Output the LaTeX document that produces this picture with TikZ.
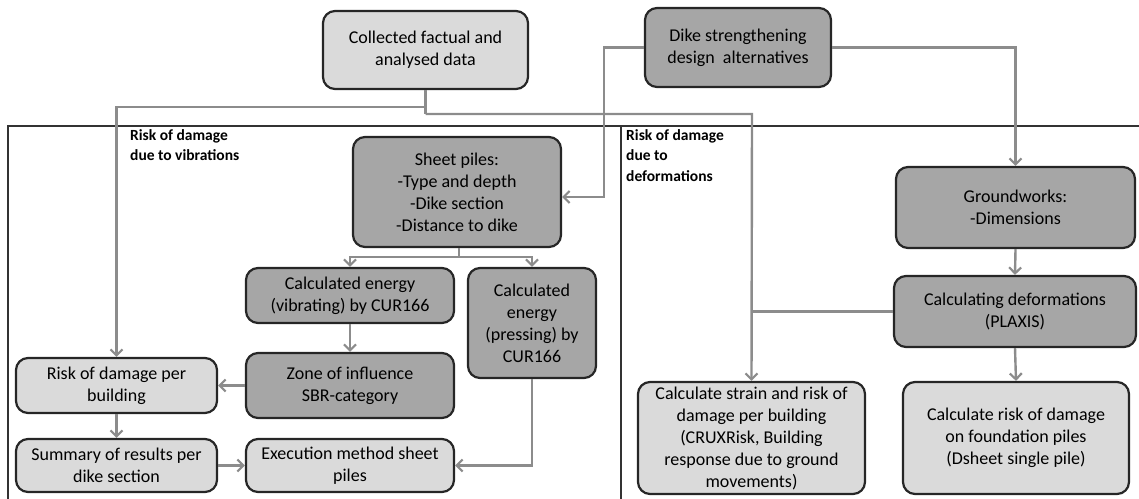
\documentclass[tikz,border=0pt]{standalone}
\usepackage{fontspec}
\setmainfont{Carlito}
\usetikzlibrary{arrows.meta}
\definecolor{lightfill}{HTML}{DADADA}
\definecolor{darkfill}{HTML}{A6A6A6}
\definecolor{boxline}{HTML}{262626}
\definecolor{connc}{HTML}{8C8C8C}
\definecolor{framec}{HTML}{333333}
\tikzset{
  box/.style={draw=boxline, line width=2.2pt, rounded corners=12pt, align=center,
    inner sep=0pt, font=\fontsize{18}{22}\selectfont},
  lightbox/.style={box, fill=lightfill},
  darkbox/.style={box, fill=darkfill},
  link/.style={draw=connc, line width=2.4pt},
  conn/.style={link, -{Straight Barb[length=6pt,width=12pt,line width=2.2pt]}},
  frameline/.style={draw=framec, line width=2pt},
  lbl/.style={font=\bfseries\fontsize{15.5}{20.5}\selectfont, align=left, inner sep=0pt, anchor=north west}
}
\begin{document}
\begin{tikzpicture}[x=1pt,y=-1pt]
\useasboundingbox (0,0) rectangle (1139,498);
% frame
\draw[frameline] (1139,126) -- (8,126) -- (8,500);
\draw[frameline] (621,126) -- (621,500);
% labels
\node[lbl] (lv) at (130,129) {Risk of damage\\due to vibrations};
\node[lbl] (ld) at (626,129) {Risk of damage\\due to\\deformations};
% nodes
\node[lightbox, minimum width=205pt, minimum height=78pt] (coll) at (425.5,50) {Collected factual and\\analysed data};
\node[darkbox, minimum width=186pt, minimum height=79pt] (dike) at (738,47.5) {Dike strengthening\\design\ \ alternatives};
\node[darkbox, minimum width=208pt, minimum height=110pt] (sheet) at (457,192) {Sheet piles:\\-Type and depth\\-Dike section\\-Distance to dike};
\node[darkbox, minimum width=208pt, minimum height=55pt] (vib) at (350,295.5) {Calculated energy\\(vibrating) by CUR166};
\node[darkbox, minimum width=128pt, minimum height=110pt] (press) at (532,323) {Calculated\\energy\\(pressing) by\\CUR166};
\node[darkbox, minimum width=208pt, minimum height=65pt] (zone) at (350,385.5) {Zone of influence\\SBR-category};
\node[lightbox, minimum width=201pt, minimum height=55pt] (riskb) at (116.5,385.5) {Risk of damage per\\building};
\node[lightbox, minimum width=201pt, minimum height=53pt] (summ) at (116.5,465.5) {Summary of results per\\dike section};
\node[lightbox, minimum width=208pt, minimum height=53pt] (exec) at (350,465.5) {Execution method sheet\\piles};
\node[darkbox, minimum width=239pt, minimum height=81pt] (ground) at (1015.5,207.5) {Groundworks:\\-Dimensions};
\node[darkbox, minimum width=242pt, minimum height=71pt] (calc) at (1015,311.5) {Calculating deformations\\(PLAXIS)};
\node[lightbox, minimum width=227pt, minimum height=112pt] (strain) at (751.5,438) {Calculate strain and risk of\\damage per building\\(CRUXRisk, Building\\response due to ground\\movements)};
\node[lightbox, minimum width=226pt, minimum height=112pt] (found) at (1016,438) {Calculate risk of damage\\on foundation piles\\(Dsheet single pile)};
% coordinates
\coordinate (c1) at (425.5,107);
\coordinate (c2) at (752,114);
\coordinate (c3) at (604,197);
\coordinate (c4) at (459,257);
\coordinate (c5) at (752,311.5);
% connectors
\draw[link] (coll.south) -- (c2 -| coll.south);
\draw[conn] (c1) -| (riskb.north);
\draw[conn] (c2 -| coll.south) -- (c2) -- (strain.north);
\draw[conn] (dike.west) -| (c3) -- (sheet.east |- c3);
\draw[conn] (dike.east) -| (ground.north);
\draw[link] (sheet.south -| c4) -- (c4);
\draw[conn] (c4) -| (vib.north);
\draw[conn] (c4) -| (press.north);
\draw[conn] (vib.south) -- (zone.north);
\draw[conn] (zone.west) -- (riskb.east);
\draw[conn] (riskb.south) -- (summ.north);
\draw[conn] (summ.east) -- (exec.west);
\draw[conn] (press.south) |- (exec.east);
\draw[conn] (ground.south) -- (calc.north);
\draw[conn] (calc.south) -- (found.north);
\draw[link] (calc.west) -- (c5);
\end{tikzpicture}
\end{document}
